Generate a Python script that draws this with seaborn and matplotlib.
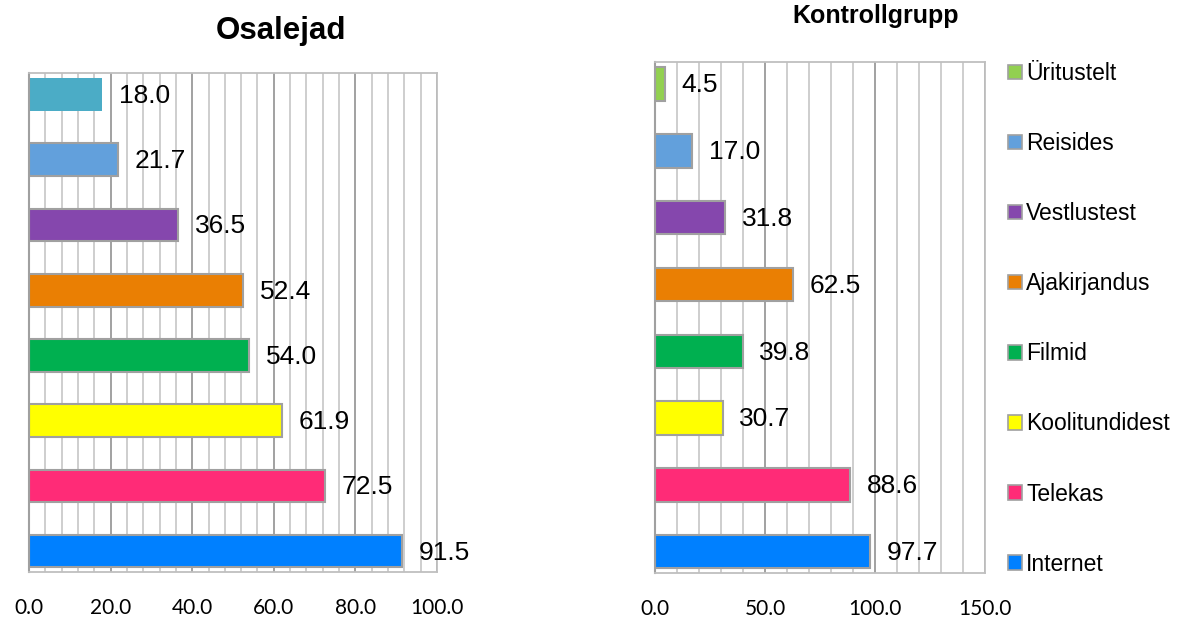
import matplotlib
matplotlib.use("Agg")
import matplotlib.pyplot as plt
from matplotlib.ticker import MultipleLocator, FormatStrFormatter
from matplotlib.patches import Patch
import seaborn as sns
import pandas as pd

# data, top to bottom
categories = ["Üritustelt", "Reisides", "Vestlustest", "Ajakirjandus",
              "Filmid", "Koolitundidest", "Telekas", "Internet"]
osalejad = [18.0, 21.7, 36.5, 52.4, 54.0, 61.9, 72.5, 91.5]
kontroll = [4.5, 17.0, 31.8, 62.5, 39.8, 30.7, 88.6, 97.7]

colors_left = ["#4BACC6", "#62A0DC", "#8547AD", "#EA7F03",
               "#00B050", "#FFFF00", "#FF2B77", "#0080FF"]
colors_right = ["#92D050", "#62A0DC", "#8547AD", "#EA7F03",
                "#00B050", "#FFFF00", "#FF2B77", "#0080FF"]

sns.set_style("white")
plt.rcParams["font.family"] = ["Liberation Sans", "DejaVu Sans"]
plt.rcParams["text.color"] = "black"
plt.rcParams["xtick.color"] = "black"

fig = plt.figure(figsize=(11.85, 6.21), dpi=100)
ax1 = fig.add_axes([29/1185, 1-572/621, (437-29)/1185, (572-73)/621])
ax2 = fig.add_axes([655/1185, 1-573/621, (985-655)/1185, (573-62)/621])


def draw(ax, vals, colors, xmax, major, minor):
  df = pd.DataFrame({"kat": categories, "val": vals})
  sns.barplot(data=df, x="val", y="kat", hue="kat", palette=colors,
              orient="h", width=0.5, legend=False, ax=ax, saturation=1,
              edgecolor="#A0A0A0", linewidth=1.5)
  ax.set_xlim(0, xmax)
  ax.set_ylim(7.32, -0.33)
  ax.xaxis.set_major_locator(MultipleLocator(major))
  ax.xaxis.set_minor_locator(MultipleLocator(minor))
  ax.xaxis.set_major_formatter(FormatStrFormatter("%.1f"))
  ax.grid(True, axis="x", which="major", color="#9A9A9A", lw=1.3)
  ax.grid(True, axis="x", which="minor", color="#CACACA", lw=1.3)
  ax.set_axisbelow(True)
  ax.set_yticks([])
  ax.set_xlabel("")
  ax.set_ylabel("")
  ax.tick_params(axis="x", which="both", length=0, pad=19)
  for lab in ax.get_xticklabels():
    lab.set_fontfamily("Lato")
    lab.set_fontsize(15)
    lab.set_color("black")
  for s in ["top", "right", "bottom"]:
    ax.spines[s].set_color("#BFBFBF")
    ax.spines[s].set_linewidth(1.3)
  ax.spines["left"].set_color("#A0A0A0")
  ax.spines["left"].set_linewidth(1.5)
  for i, v in enumerate(vals):
    ax.annotate("%.1f" % v, (v, i), xytext=(12, -1), textcoords="offset points",
                va="center", ha="left", fontsize=19, color="black")


draw(ax1, osalejad, colors_left, 100, 20, 4)
draw(ax2, kontroll, colors_right, 150, 50, 10)
# first bar on the left has no outline
ax1.patches[0].set_edgecolor("none")

fig.text(281/1185, 1-31/621, "Osalejad", ha="center", va="center",
         fontsize=22.5, fontweight="bold")
fig.text(876/1185, 1-16/621, "Kontrollgrupp", ha="center", va="center",
         fontsize=18, fontweight="bold")

handles = [Patch(facecolor=c, edgecolor="#A0A0A0", linewidth=1.2) for c in colors_right]
fig.legend(handles, categories, loc="upper left",
           bbox_to_anchor=(1008/1185, 1-62/621), frameon=False,
           fontsize=16.5, handlelength=0.6, handleheight=0.6,
           handletextpad=0.2, labelspacing=2.055, borderpad=0, borderaxespad=0)

fig.savefig("out.png", dpi=100, facecolor="white")
